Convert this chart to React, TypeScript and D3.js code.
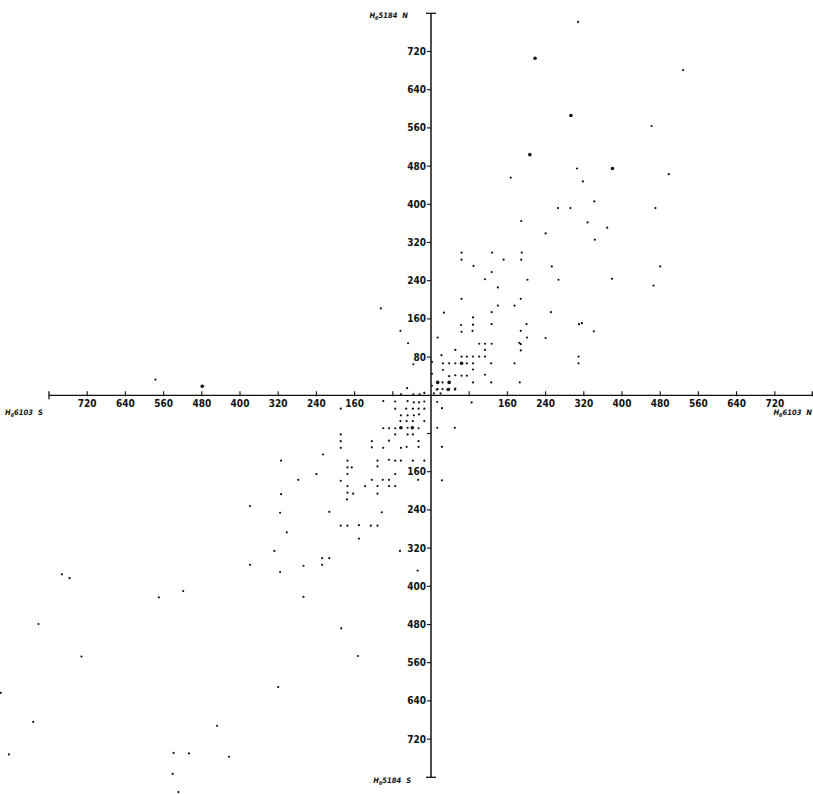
import React from "react";
import * as d3 from "d3";

// Axis ticks (both axes, absolute values)
const tickValues = [80, 160, 240, 320, 400, 480, 560, 640, 720];
const labelValues = [160, 240, 320, 400, 480, 560, 640, 720];
const vLabelValues = [80, 160, 240, 320, 400, 480, 560, 640, 720];

// Points: [H6103 (x), H5184 (y)]
const ptsNE: [number, number][] = [
  [308, 782], [528, 681], [462, 564], [306, 475], [498, 463], [167, 456], [318, 448],
  [342, 406], [266, 392], [292, 392], [470, 392], [189, 365], [328, 362], [369, 351], [240, 339],
  [343, 326], [64, 299], [128, 299], [190, 299], [64, 284], [152, 284], [189, 284], [89, 271],
  [253, 270], [480, 270], [127, 258], [113, 243], [202, 242], [267, 242], [379, 244], [140, 226],
  [466, 230], [64, 202], [188, 202], [140, 188], [175, 188], [27, 173], [127, 174], [251, 174],
  [88, 163], [63, 147], [88, 148], [127, 149], [200, 149], [310, 149], [316, 151], [64, 133],
  [87, 135], [188, 135], [341, 134], [14, 121], [201, 121], [240, 120], [101, 108], [113, 108],
  [127, 108], [185, 110], [188, 107], [51, 95], [113, 95], [188, 94], [22, 84], [64, 81], [75, 81],
  [88, 81], [101, 81], [113, 81], [309, 81], [25, 67], [38, 67], [51, 67], [75, 67], [88, 67],
  [126, 67], [175, 67], [309, 67], [88, 54], [25, 53], [38, 40], [51, 42], [64, 41], [75, 41],
  [113, 43], [24, 27], [88, 27], [126, 27], [186, 27], [14, 13], [24, 13], [38, 13], [51, 14],
  [12, 12], [50, 12], [2, 20], [2, 45], [2, 70], [6, 4], [20, 4],
];
const ptsNW: [number, number][] = [
  [-105, 182], [-64, 135], [-48, 109], [-37, 65], [-577, 33], [-50, 15], [-63, 2], [-37, 2],
  [-24, 2], [-14, 5],
];
const ptsSW: [number, number][] = [
  [-189, -28], [-75, -13], [-75, -28], [-52, -28], [-38, -28], [-26, -28], [-14, -28],
  [-36, -15], [-25, -15], [-14, -13], [-100, -12], [-49, -12],
  [-63, -42], [-49, -42], [-36, -42], [-25, -40], [-64, -54], [-51, -54], [-38, -54], [-14, -54],
  [-100, -69], [-88, -69], [-75, -69], [-49, -68], [-26, -69], [-75, -82], [-49, -82], [-38, -82],
  [-189, -82], [-189, -96], [-189, -110], [-124, -96], [-124, -109], [-88, -95], [-100, -110],
  [-63, -110], [-51, -108], [-26, -96], [-26, -108], [-226, -124], [-314, -137], [-175, -137],
  [-112, -137], [-88, -135], [-75, -137], [-63, -137], [-38, -137], [-14, -137], [-175, -151],
  [-166, -151], [-112, -149], [-175, -165], [-240, -165], [-75, -165], [-278, -177], [-189, -179],
  [-124, -177], [-101, -177], [-88, -177], [-27, -177], [-175, -190], [-138, -190], [-112, -190],
  [-88, -190], [-75, -190], [-175, -204], [-163, -206], [-112, -206], [-314, -207], [-176, -218],
  [-379, -232], [-213, -244], [-316, -246], [-103, -245], [-189, -273], [-175, -273], [-151, -272],
  [-126, -273], [-112, -273], [-302, -287], [-151, -300], [-328, -326], [-65, -326], [-228, -341],
  [-213, -341], [-379, -355], [-267, -357], [-228, -355], [-316, -370], [-28, -367], [-267, -422],
  [-773, -375], [-757, -383], [-519, -410], [-570, -423], [-822, -479], [-732, -547], [-901, -623],
  [-833, -684], [-884, -752], [-539, -749], [-507, -750], [-541, -793], [-529, -831],
  [-188, -488], [-153, -546], [-320, -611], [-448, -692], [-423, -757],
];
const ptsSE: [number, number][] = [
  [13, -14], [23, -27], [85, -15], [13, -68], [50, -68], [23, -108], [23, -178],
];
const ptsBig: [number, number][] = [
  [218, 706], [293, 586], [207, 504], [380, 475], [64, 67], [14, 27], [38, 27], [36, 12],
  [-479, 19], [-63, -68], [-39, -68],
];

const W = 813;
const H = 794;
const FONT = "'Liberation Sans Narrow', 'DejaVu Sans Condensed', 'Liberation Sans', sans-serif";

export default function App() {
  const x = d3.scaleLinear().domain([-800, 800]).range([49, 813]);
  const y = d3.scaleLinear().domain([-800, 800]).range([777.3, 13.3]);
  const x0 = x(0);
  const y0 = y(0);
  const small = [...ptsNE, ...ptsNW, ...ptsSW, ...ptsSE];

  const title = (sub: string, num: string, dir: string) => (
    <>
      H
      <tspan fontSize={5.5} dy={2}>{sub}</tspan>
      <tspan dy={-2}>{num}</tspan>
      <tspan dx={5}>{dir}</tspan>
    </>
  );

  return (
    <svg
      width={W}
      height={H}
      style={{ position: "absolute", left: 0, top: 0, background: "#fff" }}
      fontFamily={FONT}
    >
      <rect width={W} height={H} fill="#fff" />
      {/* axes */}
      <line x1={x(-800)} x2={x(800)} y1={y0} y2={y0} stroke="#111" strokeWidth={1.3} />
      <line x1={x0} x2={x0} y1={y(800)} y2={y(-800)} stroke="#111" strokeWidth={1.5} />
      {/* end caps */}
      <line x1={x(-800)} x2={x(-800)} y1={y0 - 4} y2={y0 + 4} stroke="#111" strokeWidth={1.3} />
      <line x1={x(800) - 0.7} x2={x(800) - 0.7} y1={y0 - 4} y2={y0 + 1} stroke="#111" strokeWidth={1.3} />
      <line x1={x0 - 5} x2={x0 + 5} y1={y(800)} y2={y(800)} stroke="#111" strokeWidth={1.3} />
      <line x1={x0 - 5} x2={x0 + 5} y1={y(-800)} y2={y(-800)} stroke="#111" strokeWidth={1.3} />

      {/* horizontal ticks */}
      {tickValues.flatMap((v) => [v, -v]).map((v) => (
        <line key={"hx" + v} x1={x(v)} x2={x(v)} y1={y0 - 4} y2={y0 + 1} stroke="#111" strokeWidth={1.1} />
      ))}
      {labelValues.flatMap((v) => [v, -v]).map((v) => (
        <text key={"hl" + v} x={x(v)} y={y0 + 12} textAnchor="middle" fontSize={10} fontWeight="bold" fill="#111">
          {Math.abs(v)}
        </text>
      ))}
      {/* vertical ticks */}
      {tickValues.flatMap((v) => [v, -v]).map((v) => (
        <line key={"vt" + v} x1={x0 - 4} x2={x0} y1={y(v)} y2={y(v)} stroke="#111" strokeWidth={1.1} />
      ))}
      {vLabelValues.flatMap((v) => [v, -v]).filter((v) => v !== -80).map((v) => (
        <text key={"vl" + v} x={x0 - 5} y={y(v) + 3.5} textAnchor="end" fontSize={10} fontWeight="bold" fill="#111">
          {Math.abs(v)}
        </text>
      ))}

      {/* axis titles */}
      <text x={408} y={18} textAnchor="end" fontSize={7.5} fontWeight="bold" fontStyle="italic" fill="#111">
        {title("6", "5184", "N")}
      </text>
      <text x={411} y={783} textAnchor="end" fontSize={7.5} fontWeight="bold" fontStyle="italic" fill="#111">
        {title("6", "5184", "S")}
      </text>
      <text x={5} y={415} textAnchor="start" fontSize={7.5} fontWeight="bold" fontStyle="italic" fill="#111">
        {title("6", "6103", "S")}
      </text>
      <text x={812} y={415} textAnchor="end" fontSize={7.5} fontWeight="bold" fontStyle="italic" fill="#111">
        {title("6", "6103", "N")}
      </text>

      {/* points */}
      {small.map((p, i) => (
        <circle key={"p" + i} cx={x(p[0])} cy={y(p[1])} r={1.1} fill="#111" />
      ))}
      {ptsBig.map((p, i) => (
        <circle key={"b" + i} cx={x(p[0])} cy={y(p[1])} r={1.8} fill="#111" />
      ))}
    </svg>
  );
}
